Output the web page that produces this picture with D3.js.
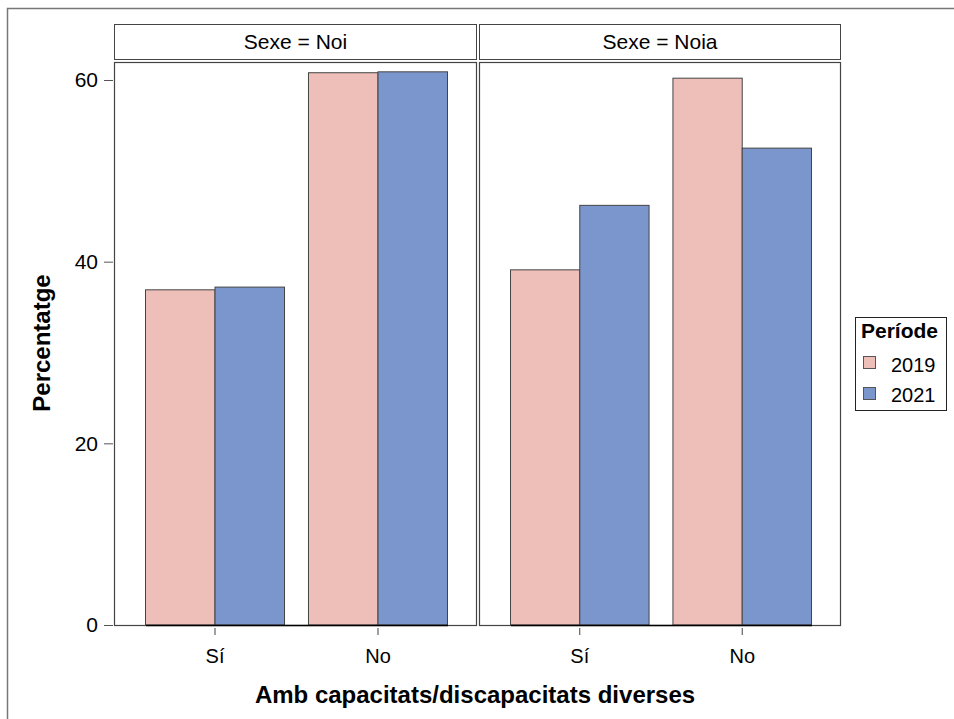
<!DOCTYPE html>
<html><head><meta charset="utf-8">
<script src="https://cdn.jsdelivr.net/npm/d3@7"></script>
<style>body{margin:0;background:#fff}svg{display:block}text{font-family:"Liberation Sans",Arial,sans-serif}</style>
</head><body>
<script>
const panels = ["Sexe = Noi", "Sexe = Noia"];
const categories = ["Sí", "No"];
const periods = ["2019", "2021"];
const values2019 = [[36.9, 60.8], [39.1, 60.2]];
const values2021 = [[37.2, 60.9], [46.2, 52.5]];
const yTicks = [0, 20, 40, 60];
const colors = ["#EEBEB8", "#7B96CC"];

(function(){
const W = 954, H = 719;
const FF = "Liberation Sans, Arial, sans-serif";
const svg = d3.select("body").append("svg").attr("width", W).attr("height", H);

// outer border
svg.append("path").attr("d", "M7.5,719 V8.5 H954").attr("fill","none").attr("stroke","#777").attr("stroke-width",1.5);

const plotTop = 62, plotBot = 625, headTop = 24, headBot = 59;
const panelX = [[114, 477], [479, 841]];
const y = d3.scaleLinear().domain([0, 60]).range([plotBot, 80]);

panels.forEach((p, i) => {
  const [x0, x1] = panelX[i];
  const x = d3.scaleBand().domain(categories).range([x0+31.5, x1-29.5]).paddingInner(0.147).paddingOuter(0);
  const xs = d3.scaleBand().domain(periods).range([0, x.bandwidth()]);
  const g = svg.append("g");
  // header
  g.append("rect").attr("x", x0+0.5).attr("y", headTop+0.5).attr("width", x1-x0-1).attr("height", headBot-headTop)
    .attr("fill","#fff").attr("stroke","#444").attr("stroke-width",1);
  g.append("text").attr("x",(x0+x1)/2).attr("y",49).attr("text-anchor","middle")
    .attr("font-size",21).attr("fill","#000").text(p);
  // bars
  categories.forEach((c, ci) => {
    [values2019[i][ci], values2021[i][ci]].forEach((v, si) => {
      g.append("rect").attr("x", x(c)+xs(periods[si])).attr("y", y(v))
        .attr("width", xs.bandwidth()).attr("height", y(0)-y(v))
        .attr("fill", colors[si]).attr("stroke","#444").attr("stroke-width",1);
    });
  });
  // plot border
  g.append("rect").attr("x", x0+0.5).attr("y", plotTop+0.5).attr("width", x1-x0-1).attr("height", plotBot-plotTop)
    .attr("fill","none").attr("stroke","#444").attr("stroke-width",1.2);
  // x axis
  const ax = svg.append("g").attr("transform",`translate(0,${plotBot})`)
    .call(d3.axisBottom(x).tickSizeInner(10).tickSizeOuter(0).tickPadding(14));
  ax.select(".domain").attr("stroke","#000").attr("stroke-width",1.5);
  ax.selectAll(".tick line").attr("stroke","#444").attr("y1",3);
  ax.selectAll(".tick text").attr("font-size",20).attr("fill","#000").attr("font-family",FF);
});

// y axis
const ay = svg.append("g").attr("transform",`translate(113,0)`).call(d3.axisLeft(y).tickValues(yTicks).tickSize(9).tickPadding(6));
ay.select(".domain").remove();
ay.selectAll(".tick line").attr("stroke","#555");
ay.selectAll(".tick text").attr("font-size",21).attr("fill","#000").attr("font-family",FF);

// axis titles
svg.append("text").attr("x", 475).attr("y", 703).attr("text-anchor","middle").attr("font-size",24).attr("font-weight","bold").text("Amb capacitats/discapacitats diverses");
svg.append("text").attr("transform","translate(50,343) rotate(-90)").attr("text-anchor","middle").attr("font-size",24).attr("font-weight","bold").text("Percentatge");

// legend
const lg = svg.append("g");
lg.append("rect").attr("x",855.5).attr("y",317.5).attr("width",91).attr("height",93).attr("fill","#fff").attr("stroke","#222");
lg.append("text").attr("x",861).attr("y",338).attr("font-size",21).attr("font-weight","bold").text("Període");
periods.forEach((p, i) => {
  lg.append("rect").attr("x",863.5).attr("y",356.5+i*31).attr("width",12).attr("height",12).attr("fill",colors[i]).attr("stroke","#555");
  lg.append("text").attr("x",891).attr("y",372+i*30).attr("font-size",20).text(p);
});
})();
</script>
</body></html>
